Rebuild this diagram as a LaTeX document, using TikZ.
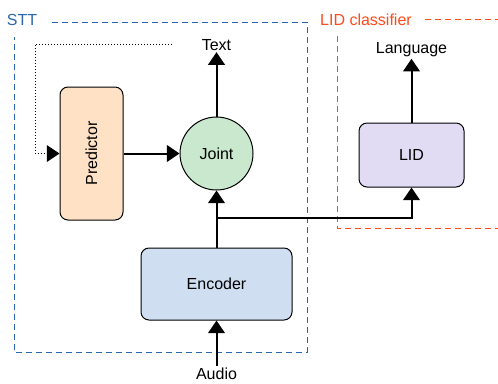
\documentclass[tikz,border=0pt]{standalone}
\usepackage{fontspec}
\setmainfont{Liberation Sans}
\usetikzlibrary{arrows.meta}

\definecolor{sttblue}{HTML}{2A66AE}
\definecolor{lidred}{HTML}{FF4A1A}
\definecolor{predfill}{HTML}{FFE2C6}
\definecolor{jointfill}{HTML}{C9E8CE}
\definecolor{encfill}{HTML}{CFDEF1}
\definecolor{lidfill}{HTML}{E1DCF4}

\begin{document}
\begin{tikzpicture}[x=0.75pt, y=-0.75pt, font=\fontsize{12}{14}\selectfont,
  block/.style={draw, rounded corners=6pt, line width=0.75pt},
  link/.style={line width=1.5pt, -{Triangle[length=9.5pt, width=12.5pt]}},
  frame/.style={line width=0.75pt, dash pattern=on 4.5pt off 3pt}]
  \useasboundingbox (0,0) rectangle (498,383);
  % frames
  \draw[frame, sttblue] (52,22) -- (307,22) -- (307,352) -- (14,352) -- (14,37);
  \draw[frame, lidred] (425,19) -- (498,19);
  \draw[frame, lidred] (337,36) -- (337,228) -- (498,228);
  \node[sttblue] (stt) at (22,20) {STT};
  \node[lidred] (lidc) at (366,20) {LID classifier};
  % blocks
  \node[block, fill=predfill, rotate=90, minimum width=99.75pt, minimum height=47.25pt] (pred) at (91.5,153.5) {Predictor};
  \node[draw, circle, fill=jointfill, line width=0.75pt, minimum size=54.75pt, inner sep=0pt] (joint) at (216.5,153.5) {Joint};
  \node[block, fill=encfill, minimum width=113.25pt, minimum height=54pt] (enc) at (216.5,284) {Encoder};
  \node[block, fill=lidfill, minimum width=78.75pt, minimum height=48pt] (lid) at (411.5,155) {LID};
  % labels
  \node[inner sep=1pt] (txt) at (216.5,45) {Text};
  \node[inner sep=1pt] (lang) at (411.5,50) {Language};
  \node[inner sep=1pt] (aud) at (216.5,373.5) {Audio};
  \coordinate (br) at (216.5,218);
  \coordinate (fbA) at (172,44);
  \coordinate (fbB) at (35,44);
  \coordinate (fbC) at (35,153.5);
  % connectors
  \draw[link] (aud) -- (enc);
  \draw[link] (enc) -- (joint);
  \draw[link] (br) -| (lid);
  \draw[link] (pred) -- (joint);
  \draw[link] (joint) -- (txt);
  \draw[link] (lid) -- (lang);
  \draw[line width=0.75pt, dash pattern=on 0.75pt off 1.5pt, -{Triangle[length=9.5pt, width=12.5pt]}] (fbA) -- (fbB) -- (fbC) -- (pred);
\end{tikzpicture}
\end{document}
